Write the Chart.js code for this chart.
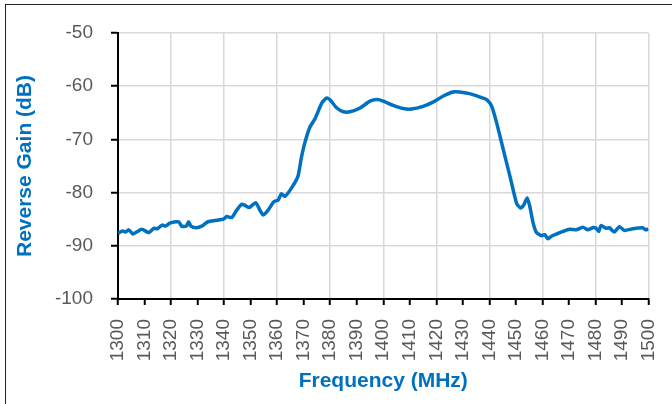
<!DOCTYPE html>
<html>
<head>
<meta charset="utf-8">
<script src="https://cdn.jsdelivr.net/npm/chart.js@4/dist/chart.umd.min.js"></script>
<style>
  html, body { margin:0; padding:0; background:#fff; }
  #wrap { position:relative; width:672px; height:404px; overflow:hidden; }
  #frame { position:absolute; left:5px; top:4px; width:800px; height:600px;
           border-left:1.5px solid #222; border-top:1.5px solid #222; }
  #wrap canvas { position:absolute; left:0; top:0; }
</style>
</head>
<body>
<div id="wrap">
  <div id="frame"></div>
  <canvas id="gainChart" width="672" height="404"></canvas>
</div>
<script>
// Reverse gain vs frequency
const freq = [
  1300, 1301.6, 1302.9, 1304, 1305.7, 1307, 1309, 1311.6, 1313.5, 1314.8,
  1316.6, 1317.9, 1319.75, 1322.9, 1324, 1325.75, 1326.6, 1327.5, 1329.5, 1331.6,
  1333.5, 1334.75, 1337.25, 1339.75, 1341, 1342.9, 1344.75, 1346.6, 1347.9, 1349.5,
  1351.9, 1353.5, 1354.75, 1356.6, 1358.75, 1360.4, 1361.6, 1362.9, 1365.2, 1367.8,
  1369.1, 1370.4, 1372.25, 1374.4, 1376.9, 1378.75, 1380, 1382.5, 1385, 1387.5,
  1391.25, 1395, 1397.75, 1400, 1403.75, 1407.5, 1410.6, 1415, 1418.75, 1422.5,
  1426.25, 1428.75, 1432.5, 1436.25, 1439.2, 1440.9, 1442.75, 1445.25, 1447.75, 1450.25,
  1451.75, 1453, 1454.25, 1455.25, 1456.5, 1457.75, 1459.6, 1460.9, 1462.1, 1463.4,
  1465.25, 1467.75, 1470.25, 1472.75, 1475.25, 1477.1, 1479, 1480.25, 1481.25, 1482.1,
  1484, 1485.25, 1487.1, 1489, 1490.9, 1494, 1497.75, 1499, 1500
];
const gain = [
  -87.7, -87.2, -87.4, -87.0, -87.8, -87.4, -86.9, -87.5, -86.7, -86.8,
  -86.1, -86.3, -85.7, -85.5, -86.3, -86.3, -85.5, -86.3, -86.6, -86.3,
  -85.6, -85.4, -85.2, -85.0, -84.5, -84.7, -83.3, -82.2, -82.4, -82.8,
  -81.9, -83.3, -84.2, -83.3, -81.7, -81.4, -80.2, -80.7, -79.3, -77.0,
  -73.5, -70.7, -67.8, -66.0, -63.1, -62.2, -62.6, -64.1, -64.8, -64.8,
  -64.1, -62.8, -62.5, -62.8, -63.6, -64.2, -64.3, -63.8, -63.0, -61.9,
  -61.1, -61.1, -61.4, -62.0, -62.6, -63.8, -66.9, -71.9, -76.9, -82.0,
  -82.9, -82.3, -81.0, -82.6, -85.7, -87.5, -88.1, -87.9, -88.7, -88.2,
  -87.8, -87.3, -86.9, -87.0, -86.5, -87.0, -86.6, -86.7, -87.3, -86.2,
  -86.7, -86.6, -87.4, -86.4, -87.1, -86.8, -86.6, -87.0, -86.8
];
const xMin = 1300, xMax = 1500, xStep = 10, xGridStep = 20;
const yMin = -100, yMax = -50, yStep = 10;
const xTitle = 'Frequency (MHz)';
const yTitle = 'Reverse Gain (dB)';

const blue = '#0070C0';
const gridCol = '#d9d9d9';
const labelCol = '#595959';

const ctx = document.getElementById('gainChart');
new Chart(ctx, {
  type: 'line',
  data: {
    datasets: [{
      data: freq.map((f, i) => ({x: f, y: gain[i]})),
      borderColor: blue,
      borderWidth: 3.5,
      pointRadius: 0,
      tension: 0.2,
      fill: false
    }]
  },
  options: {
    responsive: false,
    animation: false,
    devicePixelRatio: 1,
    layout: { padding: { top: 33, right: 23.5, left: 0, bottom: 0 } },
    plugins: { legend: { display: false }, tooltip: { enabled: false } },
    scales: {
      x: {
        type: 'linear',
        min: xMin, max: xMax,
        afterFit: s => { s.height = 105; s.paddingLeft = 0; s.paddingRight = 0; },
        border: { color: '#000', width: 2 },
        grid: {
          color: c => (c.tick && c.tick.value % xGridStep === 0) ? gridCol : 'rgba(0,0,0,0)',
          lineWidth: 1.5,
          tickColor: '#000',
          tickWidth: 2,
          tickLength: 6
        },
        ticks: {
          stepSize: xStep,
          autoSkip: false,
          minRotation: 90, maxRotation: 90,
          padding: 14,
          color: labelCol,
          font: { family: 'Liberation Sans', size: 19 },
          callback: v => String(v)
        },
        title: {
          display: true,
          text: xTitle,
          color: blue,
          padding: { top: 0, bottom: 10 },
          font: { family: 'Liberation Sans', size: 21, weight: 'bold' }
        }
      },
      y: {
        min: yMin, max: yMax,
        afterFit: s => { s.width = 118; },
        border: { color: '#000', width: 2 },
        grid: {
          color: gridCol,
          lineWidth: 1.5,
          tickColor: '#000',
          tickWidth: 2,
          tickLength: 7
        },
        ticks: {
          stepSize: yStep,
          padding: 18,
          color: labelCol,
          font: { family: 'Liberation Sans', size: 19 }
        },
        title: {
          display: true,
          text: yTitle,
          color: blue,
          padding: { top: 13, bottom: 0 },
          font: { family: 'Liberation Sans', size: 21, weight: 'bold' }
        }
      }
    }
  }
});
</script>
</body>
</html>
